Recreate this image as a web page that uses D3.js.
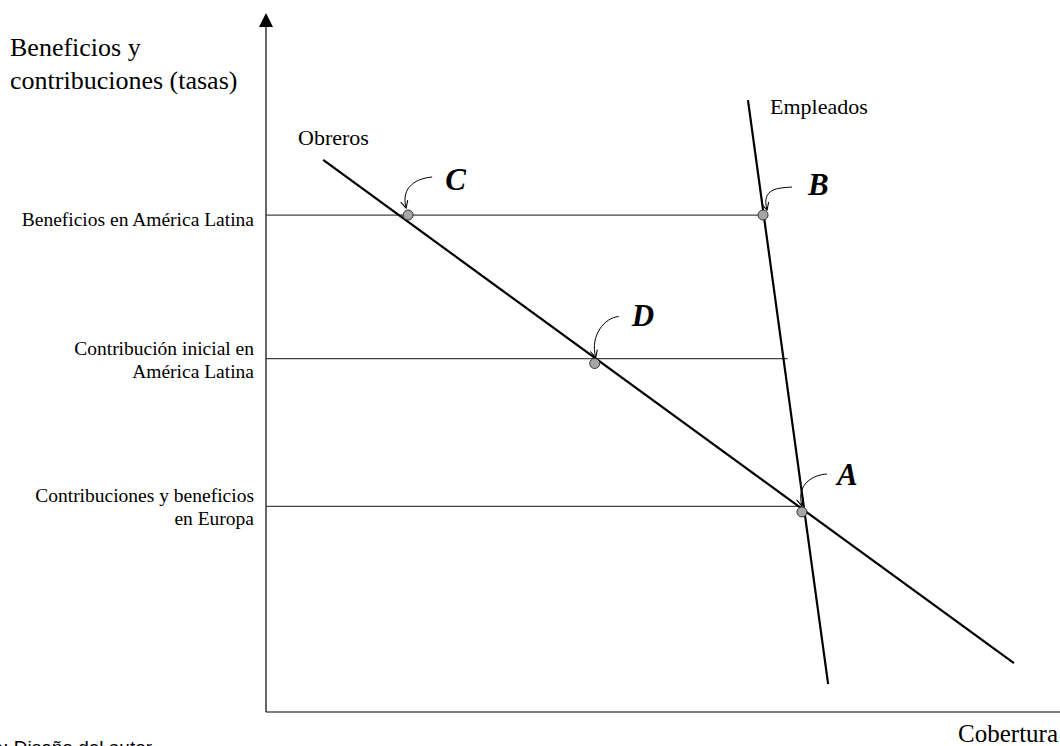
<!DOCTYPE html>
<html>
<head>
<meta charset="utf-8">
<script src="https://cdn.jsdelivr.net/npm/d3@7"></script>
<style>
  body { margin: 0; background: #fff; }
  svg { display: block; }
  text { font-family: "Liberation Serif", "Times New Roman", serif; fill: #000; }
</style>
</head>
<body>
<script>
// data (chart units 0-100 on both axes)
var obrerosX = [7.2, 94.2];
var obrerosY = [79.2, 7.0];
var empleadosX = [60.7, 70.8];
var empleadosY = [87.8, 4.0];

var levelLabels = [["Beneficios en América Latina"],
                   ["Contribución inicial en", "América Latina"],
                   ["Contribuciones y beneficios", "en Europa"]];
var levelValues = [71.3, 50.7, 29.5];
var levelEnds = [62.6, 65.7, 67.5];

var pointNames = ["C", "B", "D", "A"];
var pointX = [17.9, 62.6, 41.4, 67.5];
var pointY = [71.3, 71.3, 50.0, 28.7];

var width = 1060, height = 746;
var x0 = 266, y0 = 712;

var svg = d3.select("body").append("svg").attr("width", width).attr("height", height);

var x = d3.scaleLinear().domain([0, 100]).range([x0, 1060]);
var y = d3.scaleLinear().domain([0, 100]).range([y0, 15]);

var line = d3.line().x(d => x(d[0])).y(d => y(d[1]));

// axes
svg.append("line").attr("x1", x0).attr("x2", x0).attr("y1", 26).attr("y2", y0)
    .attr("stroke", "#000").attr("stroke-width", 1.2);
svg.append("path").attr("d", "M" + x0 + ",13L" + (x0 - 7) + ",27L" + (x0 + 7) + ",27Z").attr("fill", "#000");
svg.append("line").attr("x1", x0).attr("x2", width).attr("y1", y0).attr("y2", y0)
    .attr("stroke", "#000").attr("stroke-width", 1.2);

// horizontal levels
svg.selectAll(".level").data(levelValues).enter().append("line")
    .attr("x1", x0).attr("x2", (d, i) => x(levelEnds[i]))
    .attr("y1", d => y(d)).attr("y2", d => y(d))
    .attr("stroke", "#444").attr("stroke-width", 1.3);

var lbl = svg.selectAll(".lvlLabel").data(levelLabels).enter().append("text")
    .attr("text-anchor", "end").attr("font-size", 19.5)
    .attr("y", (d, i) => y(levelValues[i]) + (d.length == 1 ? 11 : -4));
lbl.selectAll("tspan").data(d => d).enter().append("tspan")
    .attr("x", 254).attr("dy", (d, i) => i == 0 ? 0 : 23).text(d => d);

// the two lines
svg.append("path").datum(d3.zip(obrerosX, obrerosY)).attr("d", line)
    .attr("fill", "none").attr("stroke", "#000").attr("stroke-width", 2.2);
svg.append("path").datum(d3.zip(empleadosX, empleadosY)).attr("d", line)
    .attr("fill", "none").attr("stroke", "#000").attr("stroke-width", 2.2);

svg.append("text").attr("x", 298).attr("y", 145).attr("font-size", 22).text("Obreros");
svg.append("text").attr("x", 770).attr("y", 114).attr("font-size", 22).text("Empleados");

// axis titles
svg.append("text").attr("x", 10).attr("y", 56).attr("font-size", 26).text("Beneficios y");
svg.append("text").attr("x", 10).attr("y", 89).attr("font-size", 26).text("contribuciones (tasas)");
svg.append("text").attr("x", 1058).attr("y", 742).attr("text-anchor", "end").attr("font-size", 25).text("Cobertura");

svg.append("text").attr("x", -56).attr("y", 754).attr("font-size", 19)
    .style("font-family", "'Liberation Sans', Arial, sans-serif").text("Fuente: Diseño del autor");

// arrow marker
svg.append("defs").append("marker").attr("id", "arr")
    .attr("viewBox", "0 0 10 10").attr("refX", 9).attr("refY", 5)
    .attr("markerWidth", 9).attr("markerHeight", 9).attr("orient", "auto")
    .attr("markerUnits", "userSpaceOnUse")
    .append("path").attr("d", "M1,1L9,5L1,9").attr("fill", "none").attr("stroke", "#000").attr("stroke-width", 1.2);

// layout offsets of letters and pointer arrows, relative to each point
var labelOff = [[37, -25], [45, -20], [37, -38], [35, -27]];
var arrowStart = [[24, -38], [29, -28], [24, -47], [25, -38]];
var arrowTip = [[-2, -7], [4, -5], [1, -6], [0, -6]];

var pts = svg.selectAll(".pt").data(pointNames).enter().append("g");

pts.append("path")
    .attr("d", (d, i) => {
        var px = x(pointX[i]), py = y(pointY[i]);
        var sx = px + arrowStart[i][0], sy = py + arrowStart[i][1];
        var tx = px + arrowTip[i][0], ty = py + arrowTip[i][1];
        return "M" + sx + "," + sy + "C" + (sx - 14) + "," + (sy + 1) + " " + (tx - 6) + "," + (ty - 22) + " " + tx + "," + ty;
    })
    .attr("fill", "none").attr("stroke", "#000").attr("stroke-width", 1)
    .attr("marker-end", "url(#arr)");

pts.append("circle")
    .attr("cx", (d, i) => x(pointX[i])).attr("cy", (d, i) => y(pointY[i]))
    .attr("r", 5).attr("fill", "#a6a6a6").attr("stroke", "#333").attr("stroke-width", 1);

pts.append("text")
    .attr("x", (d, i) => x(pointX[i]) + labelOff[i][0])
    .attr("y", (d, i) => y(pointY[i]) + labelOff[i][1])
    .attr("font-size", 31).attr("font-weight", "bold").attr("font-style", "italic")
    .text(d => d);
</script>
</body>
</html>
